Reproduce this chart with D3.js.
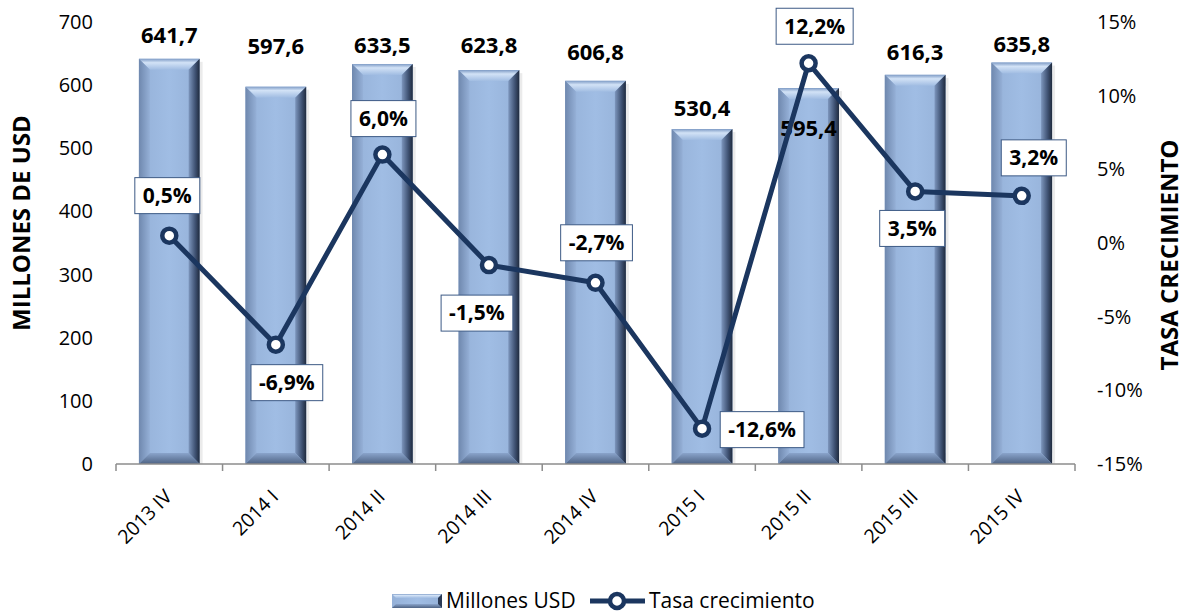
<!DOCTYPE html>
<html>
<head>
<meta charset="utf-8">
<script src="https://cdn.jsdelivr.net/npm/d3@7"></script>
<style>
  body { margin: 0; background: #fff; }
  svg { font-family: "Open Sans", sans-serif; }
</style>
</head>
<body>
<div id="main"></div>
<script>
var width = 1191,
    height = 614;

// data
var periods = ["2013 IV", "2014 I", "2014 II", "2014 III", "2014 IV", "2015 I", "2015 II", "2015 III", "2015 IV"];
var millones = [641.7, 597.6, 633.5, 623.8, 606.8, 530.4, 595.4, 616.3, 635.8];
var tasa = [0.5, -6.9, 6.0, -1.5, -2.7, -12.6, 12.2, 3.5, 3.2];
var leftTicks = [0, 100, 200, 300, 400, 500, 600, 700];
var rightTicks = [-15, -10, -5, 0, 5, 10, 15];

// label nudges (px) relative to the bar top / the point
var barLabelDy = [-24, -40, -19, -25, -29, -21, 40, -23, -18];
var pctLabelDx = [-2, 11, 1, -12, 1, 60, 6, -3, 12];
var pctLabelDy = [-40, 38, -36, 48, -40, 1, -37, 37, -38];

var navy = "#1b365f";

var svg = d3.select("#main").append("svg")
    .attr("width", width)
    .attr("height", height);

var x = d3.scaleBand()
    .domain(periods)
    .range([116, 1075])
    .paddingInner(0.43)
    .paddingOuter(0.215);

var yL = d3.scaleLinear().domain([0, 700]).range([464, 22]);
var yR = d3.scaleLinear().domain([-15, 15]).range([464, 22]);

function fmt(v, d) {
    return v.toFixed(d).replace(".", ",");
}

// gradients for the bevelled bars
var defs = svg.append("defs");
function grad(id, x2, y2, stops) {
    var g = defs.append("linearGradient").attr("id", id)
        .attr("x1", 0).attr("y1", 0).attr("x2", x2).attr("y2", y2);
    stops.forEach(function(s) {
        g.append("stop").attr("offset", s[0]).attr("stop-color", s[1]);
    });
}
grad("gBody", 1, 0, [[0, "#95b1d8"], [0.5, "#a0bde4"], [1, "#95b1d8"]]);
grad("gTop", 0, 1, [[0, "#7f9cc6"], [0.35, "#d2e2f6"], [1, "#a0bce2"]]);
grad("gLeft", 1, 0, [[0, "#6f88ae"], [1, "#95b0d7"]]);
grad("gRight", 1, 0, [[0, "#7d96bd"], [0.6, "#3f5273"], [1, "#1f2a3d"]]);
grad("gBottom", 0, 1, [[0, "#8aa4cb"], [1, "#4e6384"]]);

// bars
var bev = 11;
var bars = svg.append("g").selectAll("g")
    .data(millones)
    .enter().append("g")
    .attr("class", "bar");

bars.each(function(d, i) {
    var g = d3.select(this);
    var x0 = x(periods[i]), x1 = x0 + x.bandwidth();
    var y0 = yL(d), y1 = yL(0);
    var b = bev;
    // soft shadow to the right
    g.append("rect").attr("x", x1).attr("y", y0 + 3).attr("width", 3).attr("height", y1 - y0 - 3)
        .attr("fill", "#000").attr("opacity", 0.08);
    g.append("rect").attr("x", x0).attr("y", y0).attr("width", x1 - x0).attr("height", y1 - y0)
        .attr("fill", "url(#gBody)");
    function poly(pts, fill) {
        g.append("polygon").attr("points", pts.map(function(p) { return p.join(","); }).join(" "))
            .attr("fill", fill);
    }
    poly([[x0, y0], [x1, y0], [x1 - b, y0 + b], [x0 + b, y0 + b]], "url(#gTop)");
    poly([[x0, y0], [x0 + b, y0 + b], [x0 + b, y1 - b], [x0, y1]], "url(#gLeft)");
    poly([[x1, y0], [x1, y1], [x1 - b, y1 - b], [x1 - b, y0 + b]], "url(#gRight)");
    poly([[x0, y1], [x0 + b, y1 - b], [x1 - b, y1 - b], [x1, y1]], "url(#gBottom)");
});

// bottom axis
var xAxis = svg.append("g")
    .attr("transform", "translate(0,464)");
xAxis.append("line").attr("x1", 116).attr("x2", 1075).attr("y1", 0).attr("y2", 0)
    .attr("stroke", "#8c8c8c").attr("stroke-width", 1.5);
var edges = periods.map(function(p) { return x(p) - x.step() * x.paddingInner() / 2; });
edges.push(1075);
xAxis.selectAll(".tk").data(edges).enter().append("line")
    .attr("x1", function(d) { return d; }).attr("x2", function(d) { return d; })
    .attr("y1", 0).attr("y2", 7)
    .attr("stroke", "#8c8c8c").attr("stroke-width", 1.5);
xAxis.selectAll(".xl").data(periods).enter().append("text")
    .attr("transform", function(d) {
        return "translate(" + (x(d) + x.bandwidth() / 2 - 1) + ",29) rotate(-45)";
    })
    .attr("text-anchor", "end")
    .attr("dy", "0.35em")
    .style("font-size", "19.5px")
    .attr("fill", "#000")
    .text(function(d) { return d; });

// y axes (labels only)
svg.append("g").selectAll("text").data(leftTicks).enter().append("text")
    .attr("x", 93).attr("y", function(d) { return yL(d); })
    .attr("dy", "0.35em").attr("text-anchor", "end")
    .style("font-size", "20px")
    .text(function(d) { return d; });
svg.append("g").selectAll("text").data(rightTicks).enter().append("text")
    .attr("x", 1097).attr("y", function(d) { return yR(d); })
    .attr("dy", "0.35em").attr("text-anchor", "start")
    .style("font-size", "20px")
    .text(function(d) { return d + "%"; });

svg.append("text")
    .attr("transform", "translate(22,223) rotate(-90)")
    .attr("text-anchor", "middle")
    .attr("dy", "0.35em")
    .style("font-size", "24px").style("font-weight", "bold")
    .text("MILLONES DE USD");
svg.append("text")
    .attr("transform", "translate(1170,255) rotate(-90)")
    .attr("text-anchor", "middle")
    .attr("dy", "0.35em")
    .style("font-size", "24px").style("font-weight", "bold")
    .text("TASA CRECIMIENTO");

// bar value labels
svg.append("g").selectAll("text").data(millones).enter().append("text")
    .attr("x", function(d, i) { return x(periods[i]) + x.bandwidth() / 2; })
    .attr("y", function(d, i) { return yL(d) + barLabelDy[i]; })
    .attr("dy", "0.35em").attr("text-anchor", "middle")
    .style("font-size", "22px").style("font-weight", "bold")
    .text(function(d) { return fmt(d, 1); });

// growth line
var cx = function(d, i) { return x(periods[i]) + x.bandwidth() / 2; };
var line = d3.line()
    .x(function(d, i) { return cx(d, i); })
    .y(function(d) { return yR(d); });
svg.append("path").datum(tasa)
    .attr("d", line)
    .attr("fill", "none")
    .attr("stroke", navy)
    .attr("stroke-width", 5)
    .attr("stroke-linejoin", "round");
svg.append("g").selectAll("circle").data(tasa).enter().append("circle")
    .attr("cx", cx)
    .attr("cy", function(d) { return yR(d); })
    .attr("r", 7)
    .attr("fill", "#fff")
    .attr("stroke", navy)
    .attr("stroke-width", 4.5);

// growth labels in boxes
var pl = svg.append("g").selectAll("g").data(tasa).enter().append("g")
    .attr("transform", function(d, i) {
        return "translate(" + (cx(d, i) + pctLabelDx[i]) + "," + (yR(d) + pctLabelDy[i]) + ")";
    });
pl.append("rect").attr("fill", "#fff").attr("stroke", "#3d5a85").attr("stroke-width", 1);
pl.append("text")
    .attr("text-anchor", "middle").attr("dy", "0.35em")
    .style("font-size", "21px").style("font-weight", "bold")
    .text(function(d) { return fmt(d, 1) + "%"; });
pl.each(function() {
    var g = d3.select(this);
    var bb = g.select("text").node().getBBox();
    g.select("rect")
        .attr("x", bb.x - 8).attr("y", -18)
        .attr("width", bb.width + 16).attr("height", 36);
});

// legend
var lg = svg.append("g").attr("transform", "translate(0,601)");
var lb = lg.append("g");
lb.append("rect").attr("x", 392).attr("y", -7).attr("width", 50).attr("height", 14).attr("fill", "url(#gBody)");
lb.append("polygon").attr("points", "392,-7 442,-7 438,-3 396,-3").attr("fill", "url(#gTop)");
lb.append("polygon").attr("points", "392,7 442,7 438,3 396,3").attr("fill", "url(#gBottom)");
lb.append("polygon").attr("points", "442,-7 442,7 438,3 438,-3").attr("fill", "#2b3a55");
lg.append("text").attr("x", 446).attr("y", 0).attr("dy", "0.35em")
    .style("font-size", "21px").text("Millones USD");
lg.append("line").attr("x1", 590).attr("x2", 645).attr("y1", 0).attr("y2", 0)
    .attr("stroke", navy).attr("stroke-width", 5);
lg.append("circle").attr("cx", 617).attr("cy", 0).attr("r", 7)
    .attr("fill", "#fff").attr("stroke", navy).attr("stroke-width", 4.5);
lg.append("text").attr("x", 649).attr("y", 0).attr("dy", "0.35em")
    .style("font-size", "21px").text("Tasa crecimiento");
</script>
</body>
</html>
